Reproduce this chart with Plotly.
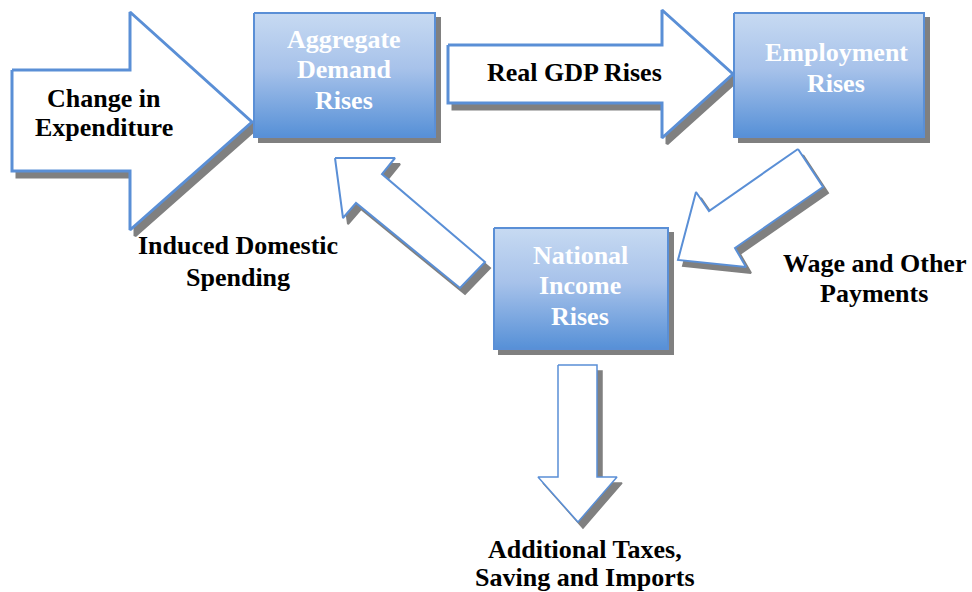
import plotly.graph_objects as go

# ---- content (labels, one entry per text line) ----
box_labels = [["Aggregate", "Demand", "Rises"], ["Employment", "Rises"], ["National", "Income", "Rises"]]
arrow_labels = [["Change in", "Expenditure"], ["Real GDP Rises"], ["Wage and Other", "Payments"],
                ["Induced Domestic", "Spending"], ["Additional Taxes,", "Saving and Imports"]]

# ---- geometry (pixel layout of the diagram) ----
W, H = 972, 592
boxes = [(254, 13, 435, 137), (734, 13, 924, 137), (494, 228, 668, 349)]
# (center x, first line y, line step)
box_text_pos = [(344, 39, 30.5), (836, 52, 31.5), (580, 255, 30.5)]
arrows = [
    [(12, 70), (130, 70), (130, 12), (252, 122), (130, 230), (130, 171), (12, 171)],
    [(448, 45), (662, 45), (662, 10), (733, 74), (662, 138), (662, 103), (448, 103)],
    [(798, 149), (823, 187), (735, 248), (746, 267), (678, 260), (696, 192), (709, 211)],
    [(335, 158), (395, 158), (382, 174), (485, 262), (460, 288), (356, 203), (343, 218)],
    [(558, 365), (597, 365), (597, 477), (617, 477), (578, 522), (538, 477), (558, 477)],
]
arrow_widths = [3, 3, 2, 2, 1.5]
arrow_text_pos = [(104, 98, 29.5), (574, 72.5, 0), (874, 263, 30.5), (238, 245.5, 32), (585, 549.5, 28)]

BLUE = "#5a8fd6"
SHADOW = "#808080"
DX, DY = 5, 6
FONT = "Liberation Serif"
FSIZE = 26

fig = go.Figure()

def poly(pts, dx=0, dy=0):
    xs = [p[0] + dx for p in pts] + [pts[0][0] + dx]
    ys = [p[1] + dy for p in pts] + [pts[0][1] + dy]
    return xs, ys

def rect(b):
    x0, y0, x1, y1 = b
    return [(x0, y0), (x1, y0), (x1, y1), (x0, y1)]

# shadows (include the outline width, as the drawing program does)
for pts, lw in zip(arrows, arrow_widths):
    xs, ys = poly(pts, DX, DY)
    fig.add_trace(go.Scatter(x=xs, y=ys, mode="lines", fill="toself", fillcolor=SHADOW,
                             line=dict(width=lw, color=SHADOW), hoverinfo="skip", showlegend=False))
for b in boxes:
    xs, ys = poly(rect(b), 5, 5)
    fig.add_trace(go.Scatter(x=xs, y=ys, mode="lines", fill="toself", fillcolor=SHADOW,
                             line=dict(width=2, color=SHADOW), hoverinfo="skip", showlegend=False))

# arrows
for pts, lw in zip(arrows, arrow_widths):
    xs, ys = poly(pts)
    fig.add_trace(go.Scatter(x=xs, y=ys, mode="lines", fill="toself", fillcolor="white",
                             line=dict(width=lw, color=BLUE), hoverinfo="skip", showlegend=False))

# boxes with vertical gradient
for b in boxes:
    xs, ys = poly(rect(b))
    fig.add_trace(go.Scatter(x=xs, y=ys, mode="lines", fill="toself",
                             fillgradient=dict(type="vertical",
                                               colorscale=[[0, "#5690d7"], [0.55, "#a7c2ea"], [1, "#c7daf2"]]),
                             line=dict(width=2, color=BLUE), hoverinfo="skip", showlegend=False))

def add_lines(lines, pos, color):
    cx, y0, step = pos
    for i, line in enumerate(lines):
        fig.add_annotation(x=cx, y=y0 + i * step, text=f"<b>{line}</b>", showarrow=False,
                           font=dict(family=FONT, size=FSIZE, color=color),
                           xanchor="center", yanchor="middle")

for lines, pos in zip(box_labels, box_text_pos):
    add_lines(lines, pos, "white")
for lines, pos in zip(arrow_labels, arrow_text_pos):
    add_lines(lines, pos, "black")

fig.update_layout(width=W, height=H, margin=dict(l=0, r=0, t=0, b=0),
                  paper_bgcolor="white", plot_bgcolor="white",
                  xaxis=dict(range=[0, W], visible=False, fixedrange=True),
                  yaxis=dict(range=[H, 0], visible=False, fixedrange=True))
fig.write_html("out.html", config={"displayModeBar": False},
               post_script="document.body.style.margin='0';")
